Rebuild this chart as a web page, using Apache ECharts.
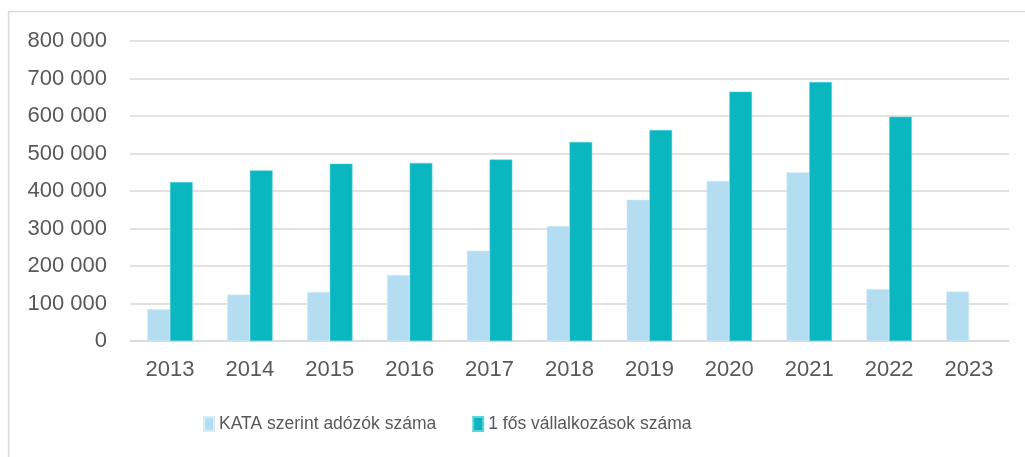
<!DOCTYPE html>
<html>
<head>
<meta charset="utf-8">
<script src="https://cdn.jsdelivr.net/npm/echarts@6/dist/echarts.min.js"></script>
<style>
  html, body { margin: 0; padding: 0; background: #fff; }
  #chart { width: 1025px; height: 457px; }
</style>
</head>
<body>
<div id="chart"></div>
<script>
// évek
var years = ['2013', '2014', '2015', '2016', '2017', '2018', '2019', '2020', '2021', '2022', '2023'];
// KATA szerint adózók száma
var kataValues = [85000, 124000, 131000, 176000, 241000, 307000, 377000, 427000, 450000, 139000, 132000];
// 1 fős vállalkozások száma (2023-ra nincs adat)
var egyfosValues = [424000, 455000, 473000, 475000, 484000, 531000, 563000, 665000, 691000, 598000, null];
var seriesNames = ['KATA szerint adózók száma', '1 fős vállalkozások száma'];
var yTicks = [0, 100000, 200000, 300000, 400000, 500000, 600000, 700000, 800000];

function formatThousands(v){
	return String(v).replace(/\B(?=(\d{3})+(?!\d))/g, ' ');
}

var myChart = echarts.init(document.getElementById('chart'));
var option = {
	animation : false,
	backgroundColor : '#ffffff',
	graphic : [{
		type : 'rect',
		shape : { x : 8.5, y : 11.5, width : 1040, height : 500 },
		style : { fill : 'none', stroke : '#d9d9d9', lineWidth : 1.5 },
		silent : true
	}],
	grid : { left : 130, right : 16, top : 41, bottom : 116, containLabel : false },
	legend : {
		bottom : 19,
		left : 198,
		itemWidth : 10,
		itemHeight : 14,
		itemGap : 36,
		icon : 'rect',
		textStyle : { fontFamily : 'Liberation Sans, sans-serif', fontSize : 17.5, color : '#595959' },
		data : seriesNames
	},
	xAxis : {
		type : 'category',
		data : years,
		axisLine : { lineStyle : { color : '#d9d9d9', width : 1.5 } },
		axisTick : { show : false },
		axisLabel : { fontFamily : 'Liberation Sans, sans-serif', fontSize : 22, color : '#595959', margin : 18 }
	},
	yAxis : {
		type : 'value',
		min : yTicks[0],
		max : yTicks[yTicks.length - 1],
		interval : 100000,
		axisLine : { show : false },
		axisTick : { show : false },
		splitLine : { lineStyle : { color : '#d9d9d9', width : 1.5 } },
		axisLabel : {
			fontFamily : 'Liberation Sans, sans-serif', fontSize : 22, color : '#595959', margin : 23,
			formatter : function(v){ return formatThousands(v); }
		}
	},
	series : [{
		name : seriesNames[0],
		type : 'bar',
		data : kataValues,
		barWidth : 22.7,
		barGap : '0%',
		itemStyle : { color : '#b4ddf2', borderColor : '#d6eef8', borderWidth : 0.5 }
	},
	{
		name : seriesNames[1],
		type : 'bar',
		data : egyfosValues,
		barWidth : 22.7,
		barGap : '0%',
		itemStyle : { color : '#0ab7c1', borderColor : '#5fd4da', borderWidth : 0.5 }
	}]
};
myChart.setOption(option);
</script>
</body>
</html>
